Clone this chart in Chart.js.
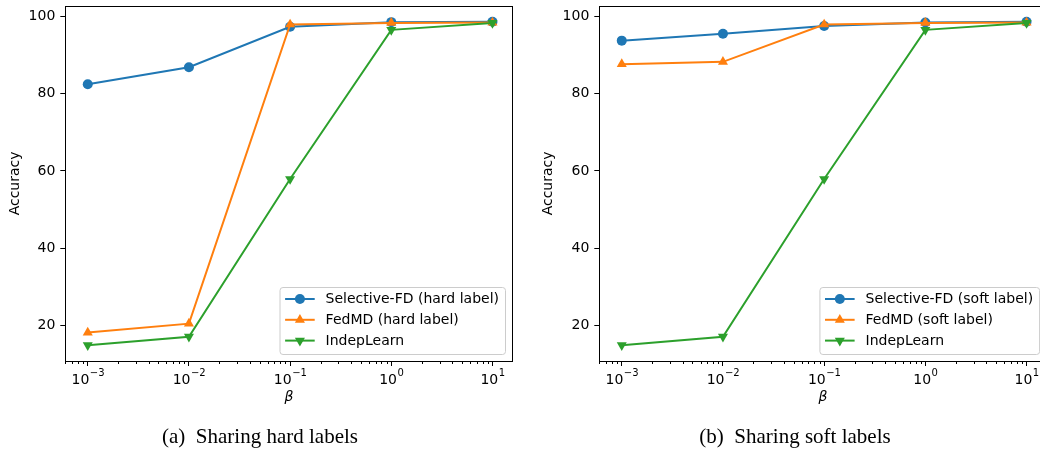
<!DOCTYPE html>
<html>
<head>
<meta charset="utf-8">
<script src="https://cdn.jsdelivr.net/npm/chart.js@4.4.0/dist/chart.umd.min.js"></script>
<style>
  html, body { margin: 0; padding: 0; background: #fff; overflow: hidden; }
  #page { position: relative; width: 1040px; height: 451px; overflow: hidden; }
  .box { position: absolute; top: 0; }
  .caption {
    position: absolute; top: 426px; width: 400px; text-align: center;
    font-family: 'Liberation Serif', 'Times New Roman', serif; font-size: 21px;
    line-height: 21px; white-space: pre; color: #000;
  }
</style>
</head>
<body>
<div id="page">
  <div class="box" style="left:0;width:520px;height:451px"><canvas id="hardChart" width="520" height="451"></canvas></div>
  <div class="box" style="left:520px;width:540px;height:451px"><canvas id="softChart" width="540" height="451"></canvas></div>
  <div class="caption" style="left:60px">(a)  Sharing hard labels</div>
  <div class="caption" style="left:595px">(b)  Sharing soft labels</div>
</div>
<script>
// ===== Data =====
const betas = [0.001, 0.01, 0.1, 1, 10];
const xTickExponents = ['\u22123', '\u22122', '\u22121', '0', '1'];
const yTicks = [20, 40, 60, 80, 100];

const hardSelective = [82.5, 86.9, 97.4, 98.6, 98.7];
const hardFedMD = [18.1, 20.4, 98.0, 98.4, 98.5];
const softSelective = [93.8, 95.6, 97.6, 98.5, 98.7];
const softFedMD = [87.7, 88.3, 98.0, 98.4, 98.5];
const indepLearn = [14.8, 17.0, 57.9, 96.6, 98.4];

const BLUE = '#1f77b4', ORANGE = '#ff7f0e', GREEN = '#2ca02c';
const FONT = "'DejaVu Sans', sans-serif";

const toPoints = vals => vals.map((v, i) => ({ x: betas[i], y: v }));

// frame, minor log ticks, 10^k tick labels and the in-plot legend
const decorPlugin = {
  id: 'decor',
  afterDatasetsDraw(chart) {
    const { ctx, chartArea: a, scales: { x } } = chart;
    ctx.save();
    // minor ticks on the log axis
    ctx.strokeStyle = '#000';
    ctx.lineWidth = 1;
    ctx.beginPath();
    for (let k = -4; k <= 1; k++) {
      for (let m = 2; m <= 9; m++) {
        const v = m * Math.pow(10, k);
        if (v < x.min || v > x.max) continue;
        const px = Math.round(x.getPixelForValue(v)) + 0.5;
        ctx.moveTo(px, a.bottom);
        ctx.lineTo(px, a.bottom + 3);
      }
    }
    ctx.stroke();
    // axes frame
    ctx.strokeRect(Math.round(a.left) + 0.5, Math.round(a.top) + 0.5,
      Math.round(a.right - a.left), Math.round(a.bottom - a.top));

    // x tick labels as 10 with a raised exponent
    ctx.fillStyle = '#000';
    ctx.textBaseline = 'alphabetic';
    ctx.textAlign = 'left';
    betas.forEach((b, i) => {
      const px = x.getPixelForValue(b);
      ctx.font = '14px ' + FONT;
      const baseW = ctx.measureText('10').width;
      ctx.font = '10px ' + FONT;
      const expW = ctx.measureText(xTickExponents[i]).width;
      const x0 = px - (baseW + expW) / 2;
      ctx.font = '14px ' + FONT;
      ctx.fillText('10', x0, a.bottom + 22.5);
      ctx.font = '10px ' + FONT;
      ctx.fillText(xTickExponents[i], x0 + baseW + 0.5, a.bottom + 14.5);
    });

    // legend
    ctx.font = '14px ' + FONT;
    const items = chart.data.datasets.slice().sort((p, q) => p.legendIndex - q.legendIndex);
    const textW = Math.max(...items.map(d => ctx.measureText(d.label).width));
    const w = 5.6 + 29.6 + 10.9 + textW + 6;
    const h = 67;
    const right = a.right - 7.7, bottom = a.bottom - 7;
    const left = right - w, top = bottom - h;
    ctx.beginPath();
    ctx.roundRect(left + 0.5, top + 0.5, w, h, 3);
    ctx.fillStyle = 'rgba(255,255,255,0.8)';
    ctx.fill();
    ctx.strokeStyle = '#cccccc';
    ctx.stroke();
    items.forEach((d, i) => {
      const cy = top + 12 + i * 20.8;
      const x0 = left + 5.6, x1 = x0 + 29.6;
      ctx.strokeStyle = d.borderColor;
      ctx.lineWidth = 2;
      ctx.beginPath();
      ctx.moveTo(x0, cy);
      ctx.lineTo(x1, cy);
      ctx.stroke();
      ctx.fillStyle = d.borderColor;
      Chart.helpers.drawPoint(ctx, {
        pointStyle: d.pointStyle, rotation: d.pointRotation || 0,
        radius: d.pointRadius, borderWidth: 0
      }, (x0 + x1) / 2, cy);
      ctx.fillStyle = '#000';
      ctx.textBaseline = 'middle';
      ctx.textAlign = 'left';
      ctx.fillText(d.label, x1 + 10.9, cy + 0.5);
    });
    ctx.restore();
  }
};

function makeChart(id, selective, fedmd, selLabel, fedLabel, padLeft, yWidth, padRight) {
  const series = [
    { label: selLabel, values: selective, color: BLUE, style: 'circle', radius: 5, rot: 0, order: 2 },
    { label: fedLabel, values: fedmd, color: ORANGE, style: 'triangle', radius: 5.8, rot: 0, order: 1 },
    { label: 'IndepLearn', values: indepLearn, color: GREEN, style: 'triangle', radius: 5.8, rot: 180, order: 0 }
  ];
  return new Chart(document.getElementById(id), {
    type: 'line',
    data: {
      datasets: series.map((s, i) => ({
        label: s.label,
        data: toPoints(s.values),
        borderColor: s.color,
        backgroundColor: s.color,
        pointBackgroundColor: s.color,
        pointBorderColor: s.color,
        pointBorderWidth: 0,
        pointStyle: s.style,
        pointRotation: s.rot,
        pointRadius: s.radius,
        borderWidth: 2,
        tension: 0,
        order: s.order,
        legendIndex: i,
        clip: false
      }))
    },
    options: {
      responsive: false,
      animation: false,
      events: [],
      layout: { padding: { left: padLeft, right: padRight, top: 4, bottom: 40 } },
      plugins: { legend: { display: false }, tooltip: { enabled: false } },
      scales: {
        x: {
          type: 'logarithmic',
          min: Math.pow(10, -3.2),
          max: Math.pow(10, 1.2),
          border: { display: false },
          grid: { display: true, drawOnChartArea: false, tickLength: 5, color: '#000', lineWidth: 1 },
          afterBuildTicks: s => { s.ticks = betas.map(v => ({ value: v })); },
          afterFit: s => { s.height = 50; s.paddingLeft = 0; s.paddingRight = 0; },
          ticks: { display: false, autoSkip: false, maxRotation: 0 },
          title: {
            display: true, text: '\u03B2', color: '#000',
            font: { family: FONT, size: 14, style: 'italic' },
            padding: { top: 0, bottom: 5 }
          }
        },
        y: {
          min: 10.71,
          max: 102.84,
          border: { display: false },
          grid: { display: true, drawOnChartArea: false, tickLength: 5, color: '#000', lineWidth: 1 },
          afterBuildTicks: s => { s.ticks = yTicks.map(v => ({ value: v })); },
          afterFit: s => { s.width = yWidth; s.paddingTop = 0; s.paddingBottom = 0; },
          ticks: { padding: 5, color: '#000', font: { family: FONT, size: 14 } },
          title: {
            display: true, text: 'Accuracy', color: '#000',
            font: { family: FONT, size: 14 },
            padding: { top: 4, bottom: 0 }
          }
        }
      }
    },
    plugins: [decorPlugin]
  });
}

makeChart('hardChart', hardSelective, hardFedMD,
  'Selective-FD (hard label)', 'FedMD (hard label)', 3, 62.3, 7.3);
makeChart('softChart', softSelective, softFedMD,
  'Selective-FD (soft label)', 'FedMD (soft label)', 16, 63.3, 13.2);
</script>
</body>
</html>
